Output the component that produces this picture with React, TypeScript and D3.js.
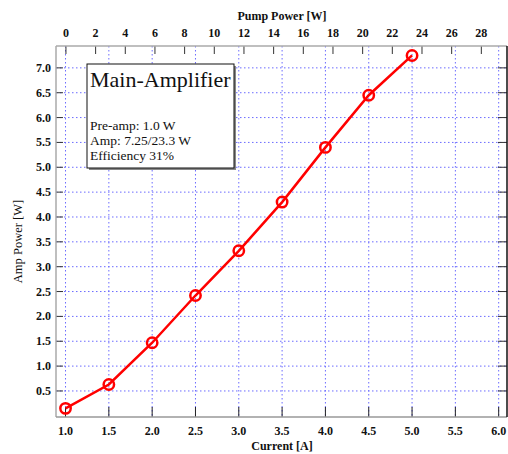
import React from "react"
import * as d3 from "d3"

const current = [1.0, 1.5, 2.0, 2.5, 3.0, 3.5, 4.0, 4.5, 5.0]
const ampPower = [0.15, 0.63, 1.47, 2.42, 3.32, 4.3, 5.4, 6.45, 7.25]
const currentTicks = [1.0, 1.5, 2.0, 2.5, 3.0, 3.5, 4.0, 4.5, 5.0, 5.5, 6.0]
const pumpTicks = [0, 2, 4, 6, 8, 10, 12, 14, 16, 18, 20, 22, 24, 26, 28]
const powerTicks = [0.5, 1.0, 1.5, 2.0, 2.5, 3.0, 3.5, 4.0, 4.5, 5.0, 5.5, 6.0, 6.5, 7.0]
const infoLines = ["Pre-amp: 1.0 W", "Amp: 7.25/23.3 W", "Efficiency 31%"]

const W = 508
const H = 454
const margin = { top: 46, right: 1, bottom: 37, left: 56 }
const font = "'Liberation Serif', 'Times New Roman', serif"

const App = () => {
  const x0 = margin.left
  const x1 = W - margin.right
  const y0 = H - margin.bottom
  const y1 = margin.top

  const x = d3.scaleLinear().domain([0.89, 6.096]).range([x0, x1])
  const xTop = d3.scaleLinear().domain([-0.67, 29.73]).range([x0, x1])
  const y = d3.scaleLinear().domain([-0.024, 7.44]).range([y0, y1])

  const line = d3
    .line<number>()
    .x((d, i) => x(current[i]))
    .y((d) => y(d))

  const grid = "#6b6bff"

  return (
    <div style={{ position: "fixed", left: 0, top: 0 }}>
      <svg width={W} height={H} style={{ display: "block", background: "#fff" }}>
        {/* grid */}
        {currentTicks.map((t) => (
          <line key={"gx" + t} x1={x(t)} x2={x(t)} y1={y1} y2={y0} stroke={grid} strokeWidth={1} strokeDasharray="1.5,2.5" />
        ))}
        {powerTicks.map((t) => (
          <line key={"gy" + t} x1={x0} x2={x1} y1={y(t)} y2={y(t)} stroke={grid} strokeWidth={1} strokeDasharray="1.5,2.5" />
        ))}

        {/* ticks */}
        {currentTicks.map((t) => (
          <line key={"tb" + t} x1={x(t)} x2={x(t)} y1={y0} y2={y0 - 10} stroke="#222" strokeWidth={1} />
        ))}
        {pumpTicks.map((t) => (
          <line key={"tt" + t} x1={xTop(t)} x2={xTop(t)} y1={y1} y2={y1 + 8} stroke="#333" strokeWidth={1} />
        ))}
        {powerTicks.map((t) => (
          <g key={"ty" + t}>
            <line x1={x0} x2={x0 + 7} y1={y(t)} y2={y(t)} stroke="#333" strokeWidth={1} />
            <line x1={x1} x2={x1 - 9} y1={y(t)} y2={y(t)} stroke="#333" strokeWidth={1} />
          </g>
        ))}

        {/* frame */}
        <line x1={x0} x2={x1} y1={y1} y2={y1} stroke="#aaa" strokeWidth={1.5} />
        <line x1={x0} x2={x0} y1={y1} y2={y0} stroke="#aaa" strokeWidth={1.5} />
        <line x1={x0} x2={x1} y1={y0} y2={y0} stroke="#999" strokeWidth={1.5} />
        <line x1={x1} x2={x1} y1={y1} y2={y0} stroke="#111" strokeWidth={1.5} />

        {/* tick labels */}
        <g fontFamily={font} fontWeight="bold" fontSize={12} fill="#111">
          {currentTicks.map((t) => (
            <text key={"lb" + t} x={x(t)} y={y0 + 18} textAnchor="middle">
              {d3.format(".1f")(t)}
            </text>
          ))}
          {pumpTicks.map((t) => (
            <text key={"lt" + t} x={xTop(t)} y={y1 - 9} textAnchor="middle">
              {t}
            </text>
          ))}
          {powerTicks.map((t) => (
            <text key={"ly" + t} x={x0 - 5} y={y(t) + 4} textAnchor="end">
              {d3.format(".1f")(t)}
            </text>
          ))}
          <text x={282} y={450} textAnchor="middle">Current [A]</text>
          <text x={282} y={20} textAnchor="middle">Pump Power [W]</text>
        </g>
        <text
          transform={`translate(22,${(y0 + y1) / 2 + 10}) rotate(-90)`}
          textAnchor="middle"
          fontFamily={font}
          fontSize={12.5}
          fill="#111"
        >
          Amp Power [W]
        </text>

        {/* data */}
        <path d={line(ampPower) || ""} fill="none" stroke="#ff0000" strokeWidth={2.5} />
        {ampPower.map((v, i) => (
          <circle key={"p" + i} cx={x(current[i])} cy={y(v)} r={5.2} fill="none" stroke="#ff0000" strokeWidth={2.5} />
        ))}

        {/* info box */}
        <rect x={89} y={66} width={147} height={104} fill="#888" />
        <rect x={87} y={64} width={147} height={104} fill="#fff" stroke="#111" strokeWidth={1} />
        <text x={90} y={87} fontFamily={font} fontSize={22} fill="#111">Main-Amplifier</text>
        {infoLines.map((s, i) => (
          <text key={s} x={90} y={130 + i * 15} fontFamily={font} fontSize={13.5} fill="#111">
            {s}
          </text>
        ))}
      </svg>
    </div>
  )
}

export default App
